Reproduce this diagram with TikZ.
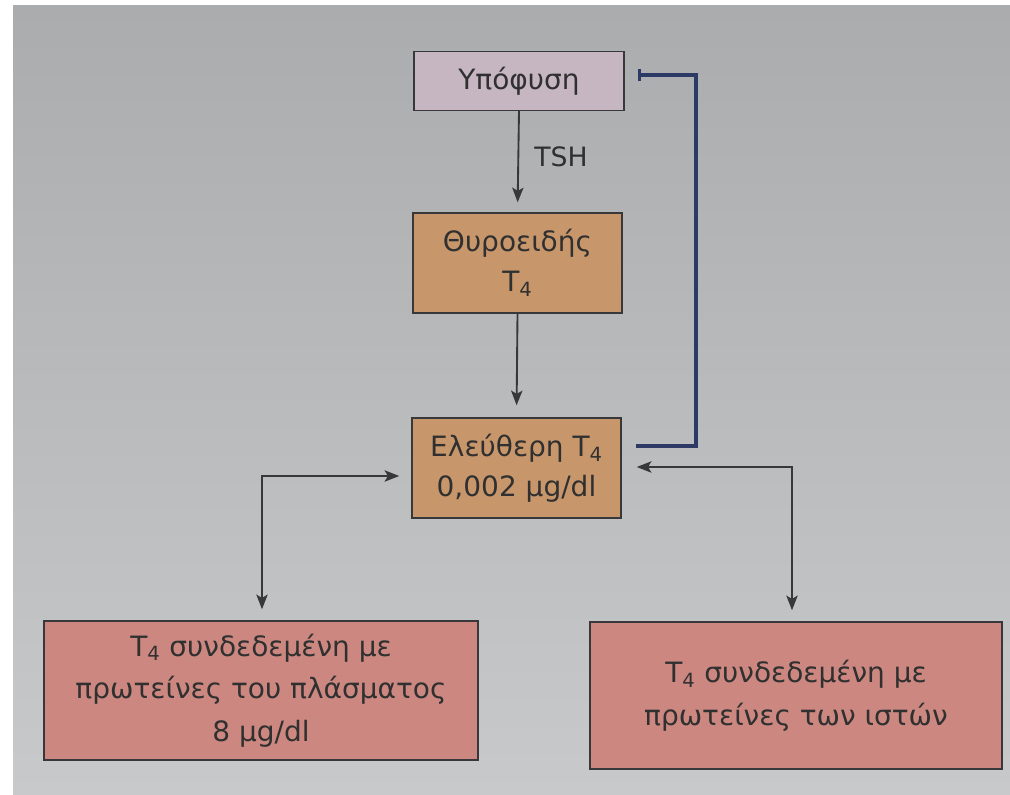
\documentclass[tikz,border=0pt]{standalone}
\usepackage{fontspec}
\setmainfont{DejaVu Sans}
\usetikzlibrary{arrows.meta,calc}
\definecolor{bgtop}{HTML}{ABACAE}
\definecolor{bgbot}{HTML}{C8C9CB}
\definecolor{ink}{HTML}{303030}
\definecolor{linec}{HTML}{38383A}
\definecolor{fbblue}{HTML}{2E3A66}
\definecolor{mauve}{HTML}{C6B6C2}
\definecolor{tan}{HTML}{C8966B}
\definecolor{rose}{HTML}{CC8880}
\tikzset{
  box/.style={draw=linec, line width=1.1pt, align=center, text=ink,
    inner sep=0pt, font=\fontsize{21pt}{30pt}\selectfont},
  bigbox/.style={box, font=\fontsize{21pt}{32pt}\selectfont},
  conn/.style={draw=linec, line width=1.4pt},
  tip/.style={-{Stealth[length=11pt,width=8.5pt,inset=2.5pt]}},
  dtip/.style={{Stealth[length=11pt,width=8.5pt,inset=2.5pt]}-{Stealth[length=11pt,width=8.5pt,inset=2.5pt]}},
  fb/.style={draw=fbblue, line width=3pt, -{Bar[width=9pt,line width=2.2pt]}},
  lbl/.style={text=ink, font=\fontsize{20pt}{24pt}\selectfont}
}
\begin{document}
\begin{tikzpicture}[x=0.75pt,y=-0.75pt]
\useasboundingbox (0,0) rectangle (1010,795);
\fill[white] (0,0) rectangle (1010,795);
\shade[top color=bgtop, bottom color=bgbot] (13,6) rectangle (1010,795);

\node[box, fill=mauve, minimum width=157.5pt, minimum height=44.25pt] (hyp) at (519,81) {Υπόφυση};
\node[box, fill=tan, minimum width=156.75pt, minimum height=75pt] (thy) at (517.5,263) {Θυροειδής\\T\textsubscript{4}};
\node[box, fill=tan, minimum width=156.75pt, minimum height=75pt] (free) at (516.5,468) {Ελεύθερη T\textsubscript{4}\\0,002 μg/dl};
\node[bigbox, fill=rose, minimum width=325.5pt, minimum height=104.25pt] (plasma) at (261,690.5) {T\textsubscript{4} συνδεδεμένη με\\πρωτείνες του πλάσματος\\8 μg/dl};
\node[bigbox, fill=rose, minimum width=309pt, minimum height=110.25pt] (tissue) at (796,695.5) {T\textsubscript{4} συνδεδεμένη με\\πρωτείνες των ιστών};

\draw[conn, tip, shorten >=7.5pt] (hyp.south) -- node[lbl, right=8pt, pos=0.45] (tsh) {TSH} (thy.north);
\draw[conn, tip, shorten >=9pt] (thy.south) -- (free.north);

\draw[conn, dtip] ($(free.west)+(-12,8)$) -| ($(plasma.north)+(1,-11)$);
\draw[conn, dtip] ($(free.east)+(15,-1)$) -| ($(tissue.north)+(-4,-11)$);

\draw[fb] ($(free.east)+(14,-22)$) -| ($(hyp.east)+(71,-6)$) -- ($(hyp.east)+(13,-6)$);
\end{tikzpicture}
\end{document}
